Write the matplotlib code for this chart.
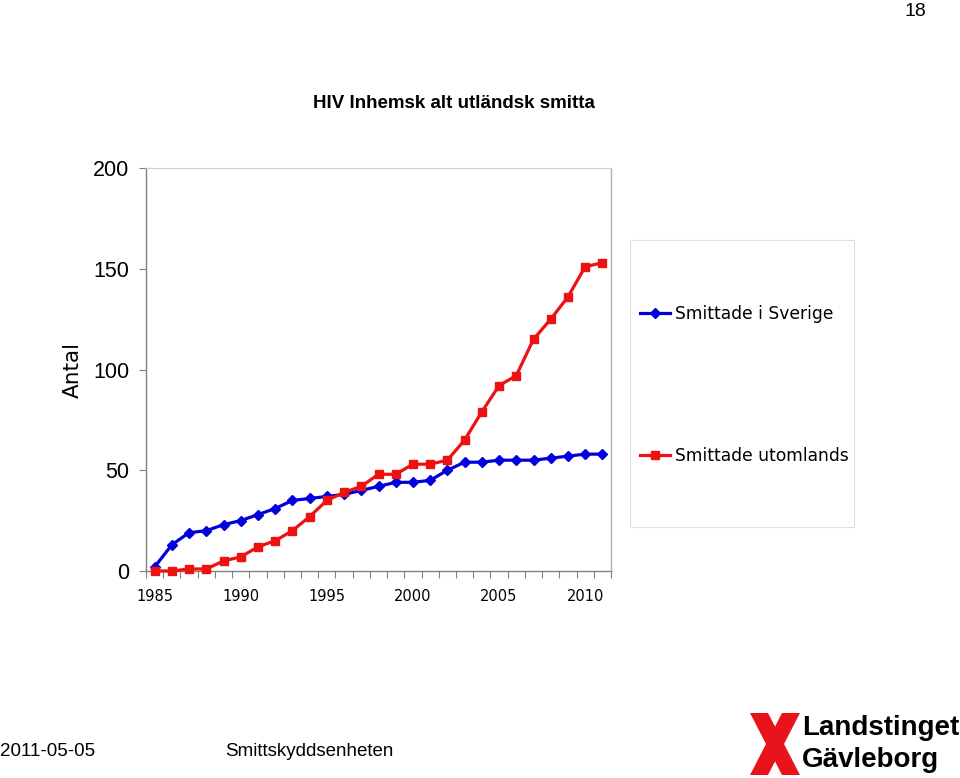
import matplotlib
matplotlib.use("Agg")
import matplotlib.pyplot as plt
from matplotlib.patches import Rectangle, Polygon
from matplotlib.ticker import FixedLocator

# -------------------------------
# Data
# -------------------------------
years = list(range(1985, 2012))
smittade_sverige = [2, 13, 19, 20, 23, 25, 28, 31, 35, 36, 37, 38, 40, 42,
                    44, 44, 45, 50, 54, 54, 55, 55, 55, 56, 57, 58, 58]
smittade_utomlands = [0, 0, 1, 1, 5, 7, 12, 15, 20, 27, 35, 39, 42, 48,
                      48, 53, 53, 55, 65, 79, 92, 97, 115, 125, 136, 151, 153]
year_labels = [1985, 1990, 1995, 2000, 2005, 2010]
y_ticks = [0, 50, 100, 150, 200]

title = "HIV Inhemsk alt utländsk smitta"
label_sverige = "Smittade i Sverige"
label_utomlands = "Smittade utomlands"

BLUE = "#0000dd"
RED = "#ee1111"
ARIAL = ["Liberation Sans", "DejaVu Sans"]
WIDE = ["DejaVu Sans"]

W, H = 960, 778
fig = plt.figure(figsize=(W / 100, H / 100), dpi=100)

def fx(px):
    return px / W

def fy(py):
    return 1 - py / H

ax = fig.add_axes([fx(146), fy(571), fx(611) - fx(146), fy(168) - fy(571)])

ax.plot(years, smittade_sverige, color=BLUE, lw=2.3, marker="D",
        markersize=5.5, label=label_sverige, clip_on=False, zorder=3)
ax.plot(years, smittade_utomlands, color=RED, lw=2.3, marker="s",
        markersize=5.5, label=label_utomlands, clip_on=False, zorder=3)

ax.set_xlim(1984.5, 2011.5)
ax.set_ylim(0, 200)

ax.set_yticks(y_ticks)
ax.set_yticklabels([str(v) for v in y_ticks], fontsize=15.5, family=ARIAL)
ax.tick_params(axis="y", direction="out", length=5, width=0.8,
               color="#808080", pad=7)

ax.set_xticks(year_labels)
ax.set_xticklabels([str(v) for v in year_labels], fontsize=10.5, family=WIDE)
ax.xaxis.set_minor_locator(FixedLocator([y + 0.5 for y in range(1984, 2012)]))
ax.tick_params(axis="x", which="major", length=0, pad=13)
ax.tick_params(axis="x", which="minor", direction="out", length=5,
               width=0.8, color="#808080")

for side in ("left", "bottom", "right"):
    ax.spines[side].set_color("#808080")
    ax.spines[side].set_linewidth(1.0)
ax.spines["top"].set_color("#d0d0d0")
ax.spines["right"].set_color("#b0b0b0")

fig.text(fx(454), fy(104), title, ha="center", va="center",
         fontsize=13.5, fontweight="bold", family=ARIAL)
fig.text(fx(73), fy(370), "Antal", ha="center", va="center", rotation=90,
         fontsize=15.5, family=WIDE)

# legend box
fig.add_artist(Rectangle((fx(630), fy(527)), fx(854) - fx(630),
                         fy(240) - fy(527), transform=fig.transFigure,
                         facecolor="white", edgecolor="#e0e0e0", lw=0.8))
leg = fig.legend(loc="center left", bbox_to_anchor=(fx(631), fy(385)),
                 frameon=False, fontsize=12.3, labelspacing=7.3,
                 handlelength=1.8, handletextpad=0.25, borderpad=0)
for t in leg.get_texts():
    t.set_family(WIDE)

# page number and footer
fig.text(fx(926), fy(11), "18", ha="right", va="center", fontsize=14,
         family=ARIAL)
fig.text(fx(0), fy(751), "2011-05-05", ha="left", va="center",
         fontsize=13.5, family=ARIAL)
fig.text(fx(225), fy(751), "Smittskyddsenheten", ha="left", va="center",
         fontsize=13.5, family=ARIAL)

# logo (approximation)
logo_red = "#e8141c"
for pts in [
    [(750, 713), (768, 713), (800, 775), (782, 775)],
    [(782, 713), (800, 713), (768, 775), (750, 775)],
]:
    fig.add_artist(Polygon([(fx(a), fy(b)) for a, b in pts], closed=True,
                           transform=fig.transFigure, facecolor=logo_red,
                           edgecolor="none"))
fig.text(fx(802), fy(728), "Landstinget", ha="left", va="center",
         fontsize=20, fontweight="bold", family=ARIAL)
fig.text(fx(802), fy(760), "Gävleborg", ha="left", va="center",
         fontsize=20, fontweight="bold", family=ARIAL)

fig.savefig("out.png", dpi=100)
